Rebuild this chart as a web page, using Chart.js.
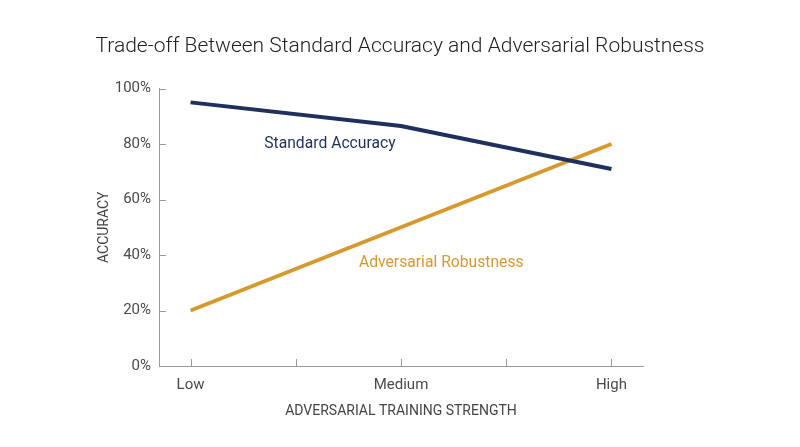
<!DOCTYPE html>
<html>
<head>
<meta charset="utf-8">
<script src="https://cdn.jsdelivr.net/npm/chart.js@4"></script>
<style>
  html, body { margin: 0; padding: 0; background: #fff; }
  #wrap { width: 800px; height: 447px; }
</style>
</head>
<body>
<div id="wrap"><canvas id="myChart"></canvas></div>
<script>
// data
var categories = ['Low', 'Medium', 'High'];
var standardAccuracy = [95, 86.5, 71];
var adversarialRobustness = [20, 50, 80];
var yTicks = [0, 20, 40, 60, 80, 100];
var xTickValues = [0, 0.5, 1, 1.5, 2];   // half steps are unlabeled minor ticks

var navy = '#1f2f5e';
var orange = '#d8992c';
var axisGrey = '#9a9a9a';

function toPoints(vals) {
    return vals.map(function (v, i) { return { x: i, y: v }; });
}

// ticks point into the plot, and the series names sit next to the lines
var innerTicks = {
    id: 'innerTicks',
    afterDatasetsDraw: function (chart) {
        var ctx = chart.ctx;
        var xs = chart.scales.x, ys = chart.scales.y;
        ctx.save();
        ctx.strokeStyle = axisGrey;
        ctx.lineWidth = 1;
        ctx.beginPath();
        xTickValues.forEach(function (v) {
            var px = Math.round(xs.getPixelForValue(v)) + 0.5;
            ctx.moveTo(px, ys.bottom);
            ctx.lineTo(px, ys.bottom - 7);
        });
        yTicks.forEach(function (v) {
            var py = Math.round(ys.getPixelForValue(v)) + 0.5;
            ctx.moveTo(xs.left, py);
            ctx.lineTo(xs.left + 7, py);
        });
        ctx.stroke();

        ctx.font = '400 15.7px Roboto';
        ctx.textBaseline = 'middle';
        ctx.textAlign = 'left';
        ctx.fillStyle = navy;
        ctx.fillText('Standard Accuracy', xs.getPixelForValue(0.35), ys.getPixelForValue(79.9));
        ctx.fillStyle = orange;
        ctx.fillText('Adversarial Robustness', xs.getPixelForValue(0.8), ys.getPixelForValue(37.1));
        ctx.restore();
    }
};

var ctx = document.getElementById('myChart').getContext('2d');
var myChart = new Chart(ctx, {
    type: 'line',
    data: {
        datasets: [{
            label: 'Standard Accuracy',
            data: toPoints(standardAccuracy),
            borderColor: navy,
            borderWidth: 4,
            pointRadius: 0,
            tension: 0
        }, {
            label: 'Adversarial Robustness',
            data: toPoints(adversarialRobustness),
            borderColor: orange,
            borderWidth: 4,
            pointRadius: 0,
            tension: 0
        }]
    },
    options: {
        responsive: true,
        maintainAspectRatio: false,
        animation: false,
        layout: { padding: 0 },
        plugins: {
            legend: { display: false },
            tooltip: { enabled: false },
            title: {
                display: true,
                text: 'Trade-off Between Standard Accuracy and Adversarial Robustness',
                color: '#222',
                font: { family: 'Roboto', size: 21, weight: '300', lineHeight: 1.2 },
                padding: { top: 34, bottom: 29.3 }
            }
        },
        scales: {
            x: {
                type: 'linear',
                min: -0.15,
                max: 2.15,
                afterBuildTicks: function (scale) {
                    scale.ticks = xTickValues.map(function (v) { return { value: v }; });
                },
                afterFit: function (scale) { scale.height = 81; },
                grid: { display: false, drawTicks: false },
                border: { display: true, color: axisGrey, width: 1 },
                ticks: {
                    autoSkip: false,
                    maxRotation: 0,
                    padding: 10,
                    color: '#4a4a4a',
                    font: { family: 'Roboto', size: 15 },
                    callback: function (v) {
                        return Number.isInteger(v) ? categories[v] : '';
                    }
                },
                title: {
                    display: true,
                    text: 'ADVERSARIAL TRAINING STRENGTH',
                    color: '#444',
                    font: { family: 'Roboto', size: 14 },
                    padding: { top: 0, bottom: 27 }
                }
            },
            y: {
                min: 0,
                max: 100,
                afterBuildTicks: function (scale) {
                    scale.ticks = yTicks.map(function (v) { return { value: v }; });
                },
                afterFit: function (scale) { scale.width = 159; },
                grid: { display: false, drawTicks: false },
                border: { display: true, color: axisGrey, width: 1 },
                ticks: {
                    padding: 8,
                    color: '#4a4a4a',
                    font: { family: 'Roboto', size: 15 },
                    callback: function (v) { return v + '%'; }
                },
                title: {
                    display: true,
                    text: 'ACCURACY',
                    color: '#444',
                    font: { family: 'Roboto', size: 14 },
                    padding: { top: 96, bottom: 0 }
                }
            },
            // empty right-hand scale, only to keep the plot narrow while the title stays centred
            yRight: {
                position: 'right',
                display: true,
                afterFit: function (scale) { scale.width = 157; },
                grid: { display: false, drawTicks: false },
                border: { display: false },
                ticks: { display: false }
            }
        }
    },
    plugins: [innerTicks]
});
</script>
</body>
</html>
